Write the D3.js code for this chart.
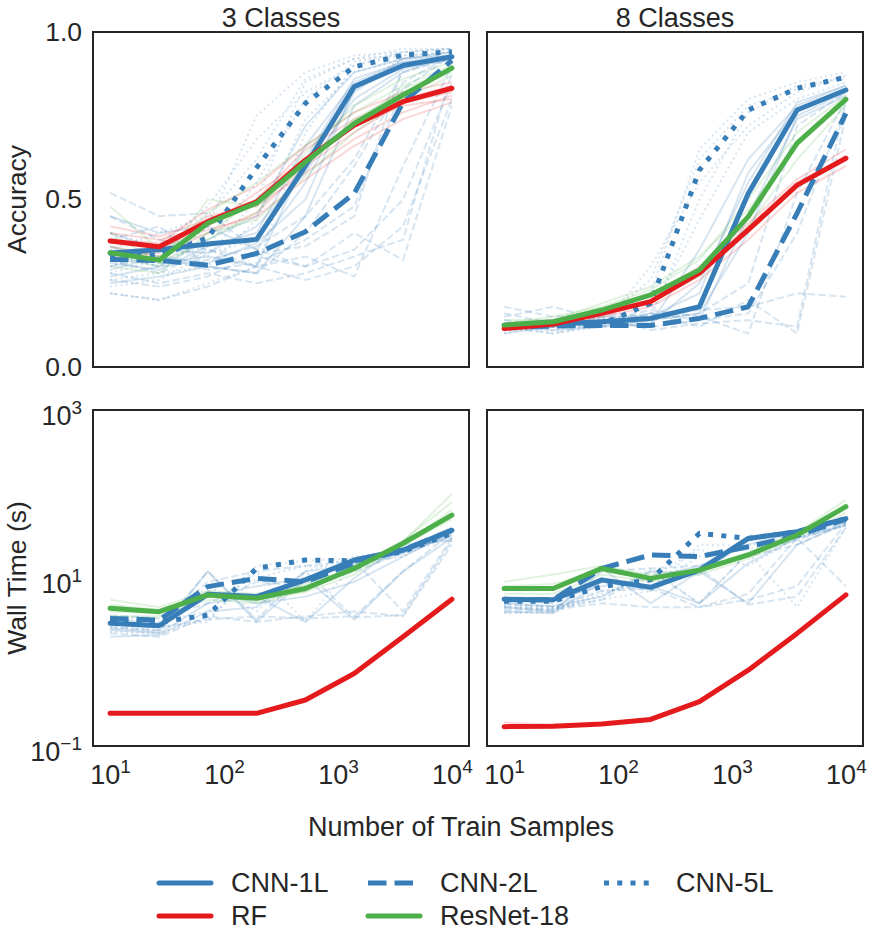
<!DOCTYPE html>
<html><head><meta charset="utf-8">
<script src="https://cdn.jsdelivr.net/npm/d3@7"></script>
<style>
body{margin:0;background:#fff}
text{font-family:"Liberation Sans",Arial,sans-serif;fill:#262626}
</style>
</head><body>
<svg id="c" width="872" height="949"></svg>
<script>
// ---------------- data ----------------
const sampleSizes = [10, 27, 72, 193, 518, 1389, 3728, 10000];
const modelNames = ["CNN-1L", "CNN-2L", "CNN-5L", "RF", "ResNet-18"];
const panelTitles = ["3 Classes", "8 Classes"];
const accTicks = [0.0, 0.5, 1.0];
const timeTicks = [0.1, 10, 1000];
const xTicks = [10, 100, 1000, 10000];

// mean accuracy, 3 classes
const acc3_cnn1 = [0.340, 0.350, 0.367, 0.381, 0.600, 0.837, 0.900, 0.926];
const acc3_cnn2 = [0.321, 0.318, 0.304, 0.339, 0.404, 0.518, 0.790, 0.915];
const acc3_cnn5 = [0.330, 0.334, 0.385, 0.595, 0.787, 0.896, 0.931, 0.941];
const acc3_rf   = [0.376, 0.359, 0.434, 0.493, 0.618, 0.722, 0.792, 0.832];
const acc3_res  = [0.341, 0.319, 0.429, 0.489, 0.612, 0.727, 0.812, 0.892];
// mean accuracy, 8 classes
const acc8_cnn1 = [0.125, 0.128, 0.135, 0.145, 0.180, 0.518, 0.767, 0.827];
const acc8_cnn2 = [0.120, 0.122, 0.124, 0.124, 0.145, 0.180, 0.459, 0.757];
const acc8_cnn5 = [0.122, 0.124, 0.128, 0.190, 0.588, 0.767, 0.832, 0.865];
const acc8_rf   = [0.115, 0.128, 0.160, 0.195, 0.280, 0.409, 0.543, 0.623];
const acc8_res  = [0.125, 0.135, 0.170, 0.215, 0.290, 0.449, 0.668, 0.799];
// mean wall time (s), 3 classes
const time3_cnn1 = [2.9, 2.7, 6.4, 6.0, 9.5, 16.4, 21.5, 37];
const time3_cnn2 = [3.3, 3.16, 7.9, 9.9, 9.0, 15, 21.5, 37];
const time3_cnn5 = [3.1, 3.0, 3.6, 13, 16.4, 16, 20.6, 34];
const time3_rf   = [0.245, 0.245, 0.245, 0.245, 0.353, 0.73, 2.0, 5.6];
const time3_res  = [4.36, 3.97, 6.28, 5.73, 7.5, 13, 25.9, 56];
// mean wall time (s), 8 classes
const time8_cnn1 = [5.57, 5.5, 9.5, 7.75, 12.4, 29.6, 35.6, 51];
const time8_cnn2 = [5.5, 5.5, 13, 18.8, 18, 23.6, 32, 50];
const time8_cnn5 = [5.3, 5.3, 7.9, 9.5, 34, 29.6, 35.6, 51];
const time8_rf   = [0.17, 0.172, 0.183, 0.207, 0.337, 0.80, 2.19, 6.3];
const time8_res  = [7.5, 7.5, 13, 9.9, 12.4, 18.8, 32.5, 70.6];

// individual trials (faint)
const acc3_trials_cnn1 = [[0.45,0.40,0.42,0.35,0.55,0.82,0.92,0.93],[0.27,0.30,0.38,0.45,0.72,0.88,0.92,0.94],[0.25,0.27,0.30,0.28,0.45,0.78,0.88,0.93],[0.36,0.31,0.33,0.30,0.62,0.86,0.91,0.92],[0.31,0.29,0.36,0.40,0.66,0.85,0.91,0.93],[0.40,0.35,0.34,0.42,0.58,0.80,0.89,0.92],[0.29,0.33,0.31,0.37,0.50,0.83,0.90,0.93]];
const acc3_trials_cnn2 = [[0.52,0.45,0.46,0.35,0.30,0.35,0.50,0.85],[0.28,0.25,0.28,0.25,0.28,0.33,0.38,0.88],[0.38,0.42,0.30,0.28,0.40,0.60,0.85,0.93],[0.22,0.20,0.24,0.30,0.26,0.30,0.42,0.80],[0.34,0.30,0.32,0.36,0.45,0.62,0.88,0.92],[0.30,0.33,0.29,0.31,0.38,0.48,0.83,0.93],[0.45,0.38,0.35,0.30,0.33,0.27,0.60,0.90],[0.26,0.24,0.27,0.34,0.36,0.45,0.90,0.93],[0.32,0.28,0.35,0.33,0.30,0.40,0.32,0.78]];
const acc3_trials_cnn5 = [[0.22,0.20,0.25,0.30,0.70,0.90,0.94,0.95],[0.30,0.35,0.33,0.50,0.85,0.92,0.95,0.95],[0.40,0.36,0.48,0.68,0.82,0.90,0.93,0.94],[0.26,0.28,0.30,0.44,0.74,0.88,0.92,0.93],[0.33,0.30,0.42,0.75,0.88,0.93,0.94,0.95],[0.28,0.32,0.36,0.55,0.80,0.91,0.94,0.95],[0.35,0.40,0.45,0.62,0.86,0.92,0.93,0.94],[0.24,0.26,0.34,0.38,0.60,0.84,0.92,0.94]];
const acc3_trials_rf  = [[0.40,0.38,0.42,0.52,0.62,0.72,0.78,0.80],[0.33,0.34,0.45,0.48,0.58,0.68,0.76,0.81],[0.42,0.39,0.44,0.50,0.65,0.74,0.80,0.84],[0.36,0.33,0.40,0.46,0.60,0.70,0.79,0.82],[0.38,0.37,0.47,0.54,0.66,0.76,0.82,0.85],[0.34,0.36,0.41,0.45,0.56,0.66,0.74,0.79]];
const acc3_trials_res = [[0.48,0.35,0.40,0.50,0.62,0.73,0.83,0.89],[0.30,0.28,0.40,0.44,0.57,0.70,0.80,0.87],[0.36,0.33,0.46,0.55,0.66,0.76,0.84,0.90],[0.33,0.30,0.50,0.48,0.60,0.74,0.82,0.88],[0.40,0.31,0.38,0.46,0.64,0.78,0.86,0.91]];

const acc8_trials_cnn1 = [[0.10,0.12,0.14,0.13,0.35,0.62,0.78,0.84],[0.12,0.11,0.12,0.16,0.14,0.45,0.74,0.81],[0.13,0.14,0.15,0.15,0.22,0.58,0.77,0.83],[0.11,0.12,0.13,0.14,0.16,0.40,0.75,0.82],[0.12,0.13,0.12,0.13,0.25,0.55,0.79,0.84]];
const acc8_trials_cnn2 = [[0.14,0.12,0.15,0.11,0.13,0.14,0.12,0.80],[0.18,0.15,0.16,0.15,0.17,0.18,0.22,0.21],[0.11,0.13,0.12,0.14,0.16,0.25,0.72,0.82],[0.15,0.18,0.14,0.16,0.12,0.20,0.10,0.75],[0.12,0.10,0.13,0.12,0.14,0.16,0.40,0.78],[0.16,0.13,0.14,0.17,0.15,0.10,0.52,0.80]];
const acc8_trials_cnn5 = [[0.10,0.13,0.15,0.22,0.65,0.80,0.85,0.88],[0.12,0.10,0.12,0.30,0.55,0.72,0.82,0.87],[0.11,0.12,0.13,0.14,0.50,0.76,0.84,0.86],[0.13,0.11,0.14,0.26,0.62,0.78,0.83,0.87],[0.12,0.12,0.12,0.16,0.44,0.70,0.80,0.85]];
const acc8_trials_rf  = [[0.12,0.14,0.17,0.21,0.30,0.43,0.56,0.65],[0.11,0.12,0.15,0.18,0.26,0.38,0.52,0.60],[0.12,0.13,0.16,0.20,0.29,0.42,0.55,0.63]];
const acc8_trials_res = [[0.13,0.15,0.18,0.23,0.32,0.50,0.70,0.81],[0.12,0.13,0.16,0.20,0.27,0.42,0.62,0.78],[0.14,0.14,0.19,0.24,0.33,0.47,0.66,0.80]];

const time3_trials_cnn1 = [[2.5,2.3,12,3.0,10,3.2,12,30],[4.5,4.0,6,8,10,15,22,40],[2.4,2.2,5,6,3.0,10,25,28],[3.2,2.9,7,5,6,9,18,36],[2.0,2.1,4,4.5,12,14,20,32]];
const time3_trials_cnn2 = [[2.2,2.0,3.5,3.0,3.5,4.0,3.5,25],[3.0,2.8,9,12,14,16,4,30],[2.8,2.6,3.2,3.5,3.3,3.5,12,35],[2.6,2.4,12,3.2,12,3.4,3.6,28],[3.6,3.3,5,9,8,12,20,33]];
const time3_trials_cnn5 = [[3.5,3.0,4.0,12,3.0,15,18,35],[2.6,2.4,8,4,12,18,22,30],[2.9,2.6,3.0,14,16,17,21,34],[2.3,2.2,3.3,10,14,13,19,31]];
const time3_trials_rf  = [[0.25,0.25,0.25,0.25,0.36,0.75,2.0,5.8]];
const time3_trials_res = [[5.5,4.5,7,6.5,8,12,28,80],[3.5,3.5,5.5,5,7,14,25,50],[4.8,4.2,6.5,6,6.8,11,24,65],[4.0,3.8,6,5.3,8.5,13,27,100]];

const time8_trials_cnn1 = [[4.5,4.0,13,5.0,12,5.0,25,45],[6,5.5,8,10,14,25,35,50],[4.0,3.8,9,8,5.0,15,30,42],[5.0,4.6,6,12,11,28,34,48]];
const time8_trials_cnn2 = [[4.2,4.2,5,4.5,4.5,5.5,8,45],[4.8,4.6,7,7.5,4.5,6.5,30,8],[5.5,5.0,9,7,13,4.8,6,40],[3.9,4.0,12,13,14,18,25,44],[4.5,4.3,5.5,12,5,20,28,46]];
const time8_trials_cnn5 = [[5.0,4.5,6,13,5.0,20,4.5,40],[4.4,4.2,7,8,18,22,30,42],[4.6,4.4,5.5,7,25,24,32,48],[3.8,3.9,6.5,10,22,14,30,45]];
const time8_trials_rf  = [[0.19,0.18,0.185,0.21,0.34,0.80,2.2,6.3]];
const time8_trials_res = [[9,11,14,11,13,20,35,85],[6.5,6.5,11,9,11,17,30,60],[8,8.5,12,10,12,19,33,75]];

// ---------------- drawing ----------------
const blue = "#377eb8", red = "#e41a1c", green = "#4daf4a";
const lw = 5;
const styles = {
  "CNN-1L": {color: blue, dash: null},
  "CNN-2L": {color: blue, dash: [3.7*lw, 1.6*lw]},
  "CNN-5L": {color: blue, dash: [1*lw, 1.65*lw]},
  "RF": {color: red, dash: null},
  "ResNet-18": {color: green, dash: null}
};

const svg = d3.select("#c");
const panels = [
  {x0:93, x1:469, y0:32, y1:367, kind:"acc", title:panelTitles[0], col:0,
   means:[acc3_cnn1,acc3_cnn2,acc3_cnn5,acc3_rf,acc3_res],
   trials:[acc3_trials_cnn1,acc3_trials_cnn2,acc3_trials_cnn5,acc3_trials_rf,acc3_trials_res]},
  {x0:487, x1:863, y0:32, y1:367, kind:"acc", title:panelTitles[1], col:1,
   means:[acc8_cnn1,acc8_cnn2,acc8_cnn5,acc8_rf,acc8_res],
   trials:[acc8_trials_cnn1,acc8_trials_cnn2,acc8_trials_cnn5,acc8_trials_rf,acc8_trials_res]},
  {x0:93, x1:469, y0:410, y1:746, kind:"time", col:0,
   means:[time3_cnn1,time3_cnn2,time3_cnn5,time3_rf,time3_res],
   trials:[time3_trials_cnn1,time3_trials_cnn2,time3_trials_cnn5,time3_trials_rf,time3_trials_res]},
  {x0:487, x1:863, y0:410, y1:746, kind:"time", col:1,
   means:[time8_cnn1,time8_cnn2,time8_cnn5,time8_rf,time8_res],
   trials:[time8_trials_cnn1,time8_trials_cnn2,time8_trials_cnn5,time8_trials_rf,time8_trials_res]}
];

function supLabel(sel, base, exp, supSize) {
  sel.text(null);
  sel.append("tspan").text(base);
  sel.append("tspan").attr("dy","-0.6em").attr("font-size", supSize).text(exp);
}

panels.forEach(p => {
  const g = svg.append("g");
  const x = d3.scaleLog().domain([Math.pow(10,0.85), Math.pow(10,4.15)]).range([p.x0, p.x1]);
  const y = p.kind === "acc"
    ? d3.scaleLinear().domain([0,1]).range([p.y1, p.y0])
    : d3.scaleLog().domain([0.1,1000]).range([p.y1, p.y0]);

  const clipId = "clip" + p.x0 + "_" + p.y0;
  svg.append("clipPath").attr("id", clipId).append("rect")
    .attr("x", p.x0).attr("y", p.y0).attr("width", p.x1-p.x0).attr("height", p.y1-p.y0);
  const plot = g.append("g").attr("clip-path", `url(#${clipId})`);
  const line = d3.line().x((d,i)=>x(sampleSizes[i])).y(d=>y(d));

  // faint trials
  p.trials.forEach((set, mi) => {
    const st = styles[modelNames[mi]];
    set.forEach(tr => {
      plot.append("path").attr("d", line(tr)).attr("fill","none")
        .attr("stroke", st.color).attr("stroke-width", 2)
        .attr("stroke-opacity", st.color === blue ? 0.2 : 0.17)
        .attr("stroke-dasharray", st.dash ? st.dash.map(v=>v*0.4).join(",") : null);
    });
  });
  // means
  p.means.forEach((m, mi) => {
    const st = styles[modelNames[mi]];
    plot.append("path").attr("d", line(m)).attr("fill","none")
      .attr("stroke", st.color).attr("stroke-width", lw)
      .attr("stroke-linejoin","round")
      .attr("stroke-linecap", st.dash ? "butt" : "round")
      .attr("stroke-dasharray", st.dash ? st.dash.join(",") : null);
  });

  // frame
  g.append("rect").attr("x", p.x0).attr("y", p.y0).attr("width", p.x1-p.x0).attr("height", p.y1-p.y0)
    .attr("fill","none").attr("stroke","#262626").attr("stroke-width",2);

  // y axis (left column only)
  if (p.col === 0) {
    if (p.kind === "acc") {
      const ax = d3.axisLeft(y).tickValues(accTicks).tickSize(0).tickPadding(11).tickFormat(d3.format(".1f"));
      const a = g.append("g").attr("transform", `translate(${p.x0},0)`).call(ax);
      a.select(".domain").remove();
      a.selectAll("text").attr("font-size", 26.5).attr("fill","#262626").style("font-family","Liberation Sans, Arial, sans-serif");
    } else {
      const ax = d3.axisLeft(y).tickValues(timeTicks).tickSize(0).tickPadding(11);
      const a = g.append("g").attr("transform", `translate(${p.x0},0)`).call(ax);
      a.select(".domain").remove();
      a.selectAll("text").attr("font-size", 27).attr("fill","#262626").attr("dy","0.55em")
        .style("font-family","Liberation Sans, Arial, sans-serif")
        .each(function(d){ const e = Math.round(Math.log10(d)); supLabel(d3.select(this), "10", e < 0 ? "\u2212" + (-e) : String(e), 19); });
    }
    g.append("text").attr("transform", `translate(${17},${(p.y0+p.y1)/2}) rotate(-90)`)
      .attr("text-anchor","middle").attr("dy","0.35em").attr("font-size", 26.5)
      .text(p.kind === "acc" ? "Accuracy" : "Wall Time (s)");
  }
  // x axis (bottom row only)
  if (p.kind === "time") {
    const ax = d3.axisBottom(x).tickValues(xTicks).tickSize(0).tickPadding(19);
    const a = g.append("g").attr("transform", `translate(0,${p.y1})`).call(ax);
    a.select(".domain").remove();
    a.selectAll("text").attr("font-size", 27).attr("fill","#262626")
      .style("font-family","Liberation Sans, Arial, sans-serif")
      .each(function(d){ supLabel(d3.select(this), "10", String(Math.round(Math.log10(d))), 19); });
  }
  if (p.title) {
    g.append("text").attr("x", (p.x0+p.x1)/2).attr("y", 27).attr("text-anchor","middle")
      .attr("font-size", 27).text(p.title);
  }
});

// shared x label
svg.append("text").attr("x", 461).attr("y", 836).attr("text-anchor","middle")
  .attr("font-size", 27).text("Number of Train Samples");

// legend
const legPos = [
  {name:"CNN-1L", lx:159, ty:883},
  {name:"CNN-2L", lx:368, ty:883},
  {name:"CNN-5L", lx:604, ty:883},
  {name:"RF", lx:159, ty:916},
  {name:"ResNet-18", lx:368, ty:916}
];
const leg = svg.append("g");
legPos.forEach(l => {
  const st = styles[l.name];
  leg.append("line").attr("x1", l.lx).attr("x2", l.lx+52).attr("y1", l.ty).attr("y2", l.ty)
    .attr("stroke", st.color).attr("stroke-width", lw)
    .attr("stroke-linecap", st.dash ? "butt" : "round")
    .attr("stroke-dasharray", st.dash ? st.dash.join(",") : null);
  leg.append("text").attr("x", l.lx+72).attr("y", l.ty).attr("dy","0.35em")
    .attr("font-size", 27).text(l.name);
});
</script>
</body></html>
